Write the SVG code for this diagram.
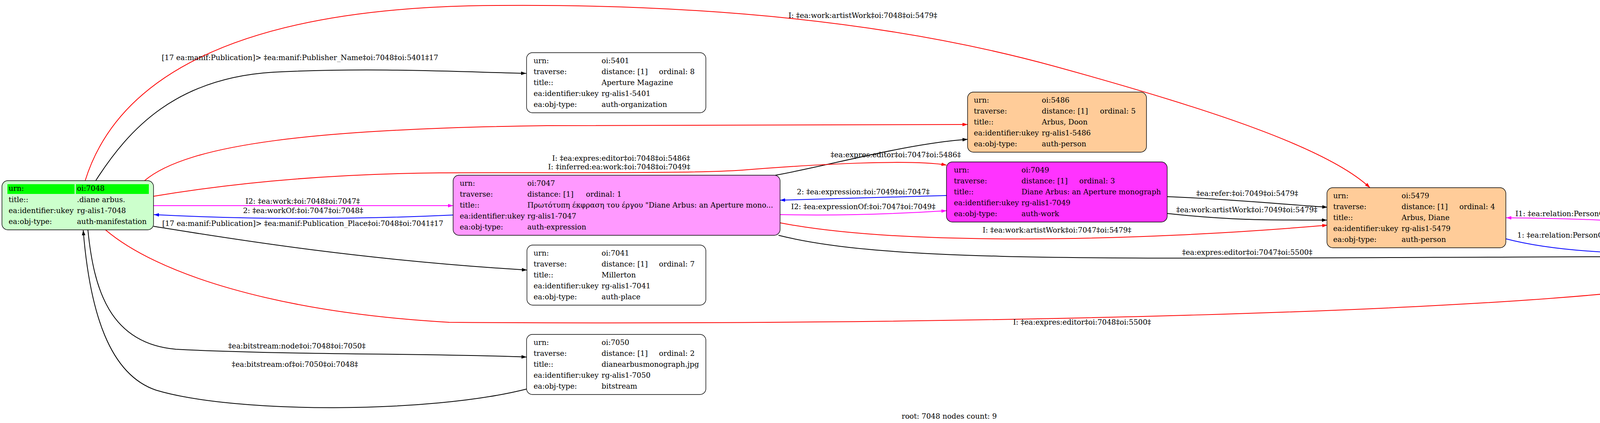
<svg xmlns="http://www.w3.org/2000/svg" width="4861" height="1084" viewBox="0 0 4861 1084">
<style>
text{font-family:"DejaVu Serif","Liberation Serif",serif;font-size:18.67px;fill:#000}
.box{stroke:#000;stroke-width:1.4}
.e{fill:none;stroke-width:2}
.k{stroke:#000}.r{stroke:#ff0000}.b{stroke:#0000ff}.m{stroke:#ff00ff}
.lbl{text-anchor:middle}
</style>
<defs>
<marker id="ak" markerUnits="userSpaceOnUse" markerWidth="14" markerHeight="10" refX="13" refY="4.5" orient="auto"><path d="M0,0 L13,4.5 L0,9 z" fill="#000"/></marker>
<marker id="ar" markerUnits="userSpaceOnUse" markerWidth="14" markerHeight="10" refX="13" refY="4.5" orient="auto"><path d="M0,0 L13,4.5 L0,9 z" fill="#ff0000"/></marker>
<marker id="ab" markerUnits="userSpaceOnUse" markerWidth="14" markerHeight="10" refX="13" refY="4.5" orient="auto"><path d="M0,0 L13,4.5 L0,9 z" fill="#0000ff"/></marker>
<marker id="am" markerUnits="userSpaceOnUse" markerWidth="14" markerHeight="10" refX="13" refY="4.5" orient="auto"><path d="M0,0 L13,4.5 L0,9 z" fill="#ff00ff"/></marker>
</defs>
<rect width="4861" height="1084" fill="#fff"/>

<g id="connectors">
<path class="e r" marker-end="url(#ar)" d="M218,463 C300,200 600,30 1200,15 C1800,5 2300,60 2700,170 C3100,280 3400,380 3507,481"/>
<path class="e k" marker-end="url(#ak)" d="M245,463 C330,330 450,200 700,185 C950,172 1200,185 1347,188"/>
<path class="e r" marker-end="url(#ar)" d="M370,463 C480,370 800,330 1400,322 C1900,318 2300,319 2477,319"/>
<path class="e k" marker-end="url(#ak)" d="M1985,449 C2120,425 2320,368 2477,357"/>
<path class="e r" marker-end="url(#ar)" d="M393,503 C650,460 900,445 1125,443 C1400,441 1750,446 1900,436 C2100,420 2330,408 2423,423"/>
<path class="e m" marker-end="url(#am)" d="M393,527 L1160,527"/>
<path class="e b" marker-end="url(#ab)" d="M1160,551 C900,563 650,563 394,550"/>
<path class="e k" marker-end="url(#ak)" d="M393,580 C550,605 900,665 1349,692"/>
<path class="e r" marker-end="url(#ar)" d="M270,589 C400,700 700,800 1150,826 C2300,835 4000,805 4397,713"/>
<path class="e k" marker-end="url(#ak)" d="M225,589 C240,740 280,880 450,895 C750,910 1100,905 1348,915"/>
<path class="e k" marker-end="url(#ak)" d="M1348,997 C1100,1060 600,1060 400,1000 C280,960 230,800 213,590"/>
<path class="e b" marker-end="url(#ab)" d="M2424,501 L1997,513"/>
<path class="e m" marker-end="url(#am)" d="M1997,550 C2150,553 2300,548 2423,540"/>
<path class="e r" marker-end="url(#ar)" d="M1997,571 C2300,630 2900,620 3398,577"/>
<path class="e k" marker-end="url(#ak)" d="M1993,603 C2300,680 2900,660 4397,657"/>
<path class="e k" marker-end="url(#ak)" d="M2988,504 C3150,510 3300,525 3398,531"/>
<path class="e k" marker-end="url(#ak)" d="M2988,547 C3150,565 3250,564 3397,564"/>
<path class="e m" marker-end="url(#am)" d="M4397,598 C4200,560 4000,560 3856,558"/>
<path class="e b" marker-end="url(#ab)" d="M3855,612 C4000,650 4200,652 4397,651"/>

<text class="lbl" x="2209" y="46">I: ‡ea:work:artistWork‡oi:7048‡oi:5479‡</text>
<text class="lbl" x="768" y="154">[17 ea:manif:Publication]&gt; ‡ea:manif:Publisher_Name‡oi:7048‡oi:5401‡17</text>
<text class="lbl" x="1590" y="412">I: ‡ea:expres:editor‡oi:7048‡oi:5486‡</text>
<text class="lbl" x="2293" y="403">‡ea:expres:editor‡oi:7047‡oi:5486‡</text>
<text class="lbl" x="1585" y="434">I: ‡inferred:ea:work:‡oi:7048‡oi:7049‡</text>
<text class="lbl" x="775" y="522">I2: ‡ea:work:‡oi:7048‡oi:7047‡</text>
<text class="lbl" x="776" y="546">2: ‡ea:workOf:‡oi:7047‡oi:7048‡</text>
<text class="lbl" x="775" y="579">[17 ea:manif:Publication]&gt; ‡ea:manif:Publication_Place‡oi:7048‡oi:7041‡17</text>
<text class="lbl" x="2770" y="832">I: ‡ea:expres:editor‡oi:7048‡oi:5500‡</text>
<text class="lbl" x="760" y="893">‡ea:bitstream:node‡oi:7048‡oi:7050‡</text>
<text class="lbl" x="755" y="940">‡ea:bitstream:of‡oi:7050‡oi:7048‡</text>
<text class="lbl" x="2210" y="498">2: ‡ea:expression:‡oi:7049‡oi:7047‡</text>
<text class="lbl" x="2210" y="536">I2: ‡ea:expressionOf:‡oi:7047‡oi:7049‡</text>
<text class="lbl" x="2706" y="596">I: ‡ea:work:artistWork‡oi:7047‡oi:5479‡</text>
<text class="lbl" x="3193" y="653">‡ea:expres:editor‡oi:7047‡oi:5500‡</text>
<text class="lbl" x="3193" y="502">‡ea:refer:‡oi:7049‡oi:5479‡</text>
<text class="lbl" x="3192" y="544">‡ea:work:artistWork‡oi:7049‡oi:5479‡</text>
<text class="lbl" x="4126" y="554">I1: ‡ea:relation:PersonOtherOther‡oi:5500‡oi:5479‡</text>
<text class="lbl" x="4127" y="609">1: ‡ea:relation:PersonOtherOther‡oi:5479‡oi:5500‡</text>
</g>

<g id="n7048">
<rect class="box" x="5" y="463" width="388" height="126" rx="15" fill="#ccffcc"/>
<rect x="19" y="472" width="172" height="25" fill="#00ff00"/>
<rect x="194" y="472" width="187" height="25" fill="#00ff00"/>
<text x="22" y="489">urn:</text><text x="197" y="489">oi:7048</text>
<text x="22" y="518">title::</text><text x="197" y="518">.diane arbus.</text>
<text x="22" y="546">ea:identifier:ukey</text><text x="197" y="546">rg-alis1-7048</text>
<text x="22" y="574">ea:obj-type:</text><text x="197" y="574">auth-manifestation</text>
</g>

<g id="n5401">
<rect class="box" x="1348" y="135" width="459" height="154" rx="15" fill="#fff"/>
<text x="1366" y="162">urn:</text><text x="1540" y="162">oi:5401</text>
<text x="1366" y="190">traverse:</text><text x="1540" y="190">distance: [1]</text><text x="1687" y="190">ordinal: 8</text>
<text x="1366" y="218">title::</text><text x="1540" y="218">Aperture Magazine</text>
<text x="1366" y="246">ea:identifier:ukey</text><text x="1540" y="246">rg-alis1-5401</text>
<text x="1366" y="274">ea:obj-type:</text><text x="1540" y="274">auth-organization</text>
</g>

<g id="n5486">
<rect class="box" x="2477" y="236" width="458" height="154" rx="15" fill="#ffcc99"/>
<text x="2493" y="263">urn:</text><text x="2667" y="263">oi:5486</text>
<text x="2493" y="291">traverse:</text><text x="2667" y="291">distance: [1]</text><text x="2816" y="291">ordinal: 5</text>
<text x="2493" y="319">title::</text><text x="2667" y="319">Arbus, Doon</text>
<text x="2493" y="347">ea:identifier:ukey</text><text x="2667" y="347">rg-alis1-5486</text>
<text x="2493" y="375">ea:obj-type:</text><text x="2667" y="375">auth-person</text>
</g>

<g id="n7047">
<rect class="box" x="1160" y="449" width="837" height="154" rx="15" fill="#ff99ff"/>
<text x="1177" y="476">urn:</text><text x="1350" y="476">oi:7047</text>
<text x="1177" y="504">traverse:</text><text x="1350" y="504">distance: [1]</text><text x="1500" y="504">ordinal: 1</text>
<text x="1177" y="532">title::</text><text x="1350" y="532">Πρωτότυπη έκφραση του έργου "Diane Arbus: an Aperture mono...</text>
<text x="1177" y="560">ea:identifier:ukey</text><text x="1350" y="560">rg-alis1-7047</text>
<text x="1177" y="588">ea:obj-type:</text><text x="1350" y="588">auth-expression</text>
</g>

<g id="n7049">
<rect class="box" x="2423" y="415" width="565" height="154" rx="15" fill="#ff33ff"/>
<text x="2442" y="442">urn:</text><text x="2615" y="442">oi:7049</text>
<text x="2442" y="470">traverse:</text><text x="2615" y="470">distance: [1]</text><text x="2763" y="470">ordinal: 3</text>
<text x="2442" y="498">title::</text><text x="2615" y="498">Diane Arbus: an Aperture monograph</text>
<text x="2442" y="526">ea:identifier:ukey</text><text x="2615" y="526">rg-alis1-7049</text>
<text x="2442" y="554">ea:obj-type:</text><text x="2615" y="554">auth-work</text>
</g>

<g id="n7041">
<rect class="box" x="1349" y="628" width="458" height="154" rx="15" fill="#fff"/>
<text x="1366" y="655">urn:</text><text x="1540" y="655">oi:7041</text>
<text x="1366" y="683">traverse:</text><text x="1540" y="683">distance: [1]</text><text x="1687" y="683">ordinal: 7</text>
<text x="1366" y="711">title::</text><text x="1540" y="711">Millerton</text>
<text x="1366" y="739">ea:identifier:ukey</text><text x="1540" y="739">rg-alis1-7041</text>
<text x="1366" y="767">ea:obj-type:</text><text x="1540" y="767">auth-place</text>
</g>

<g id="n7050">
<rect class="box" x="1348" y="857" width="459" height="154" rx="15" fill="#fff"/>
<text x="1366" y="884">urn:</text><text x="1540" y="884">oi:7050</text>
<text x="1366" y="912">traverse:</text><text x="1540" y="912">distance: [1]</text><text x="1687" y="912">ordinal: 2</text>
<text x="1366" y="940">title::</text><text x="1540" y="940">dianearbusmonograph.jpg</text>
<text x="1366" y="968">ea:identifier:ukey</text><text x="1540" y="968">rg-alis1-7050</text>
<text x="1366" y="996">ea:obj-type:</text><text x="1540" y="996">bitstream</text>
</g>

<g id="n5479">
<rect class="box" x="3397" y="481" width="458" height="154" rx="15" fill="#ffcc99"/>
<text x="3413" y="508">urn:</text><text x="3588" y="508">oi:5479</text>
<text x="3413" y="536">traverse:</text><text x="3588" y="536">distance: [1]</text><text x="3736" y="536">ordinal: 4</text>
<text x="3413" y="564">title::</text><text x="3588" y="564">Arbus, Diane</text>
<text x="3413" y="592">ea:identifier:ukey</text><text x="3588" y="592">rg-alis1-5479</text>
<text x="3413" y="620">ea:obj-type:</text><text x="3588" y="620">auth-person</text>
</g>

<g id="n5500">
<rect class="box" x="4397" y="577" width="458" height="154" rx="15" fill="#ffcc99"/>
<text x="4413" y="604">urn:</text><text x="4588" y="604">oi:5500</text>
<text x="4413" y="632">traverse:</text><text x="4588" y="632">distance: [1]</text><text x="4736" y="632">ordinal: 6</text>
<text x="4413" y="660">title::</text><text x="4588" y="660">Israel, Marvin</text>
<text x="4413" y="688">ea:identifier:ukey</text><text x="4588" y="688">rg-alis1-5500</text>
<text x="4413" y="716">ea:obj-type:</text><text x="4588" y="716">auth-person</text>
</g>

<text class="lbl" x="2430" y="1073">root: 7048 nodes count: 9</text>
</svg>
